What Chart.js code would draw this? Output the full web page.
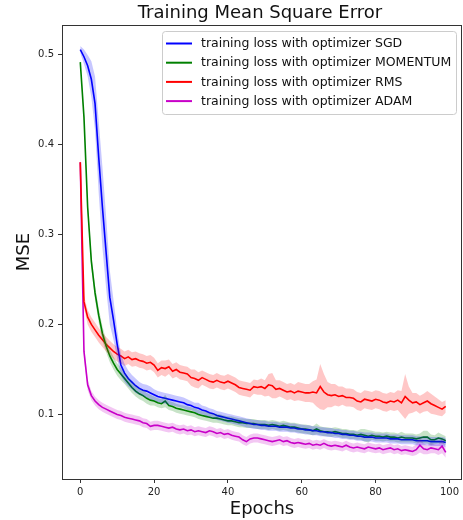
<!DOCTYPE html>
<html><head><meta charset="utf-8">
<script src="https://cdn.jsdelivr.net/npm/chart.js@4/dist/chart.umd.min.js"></script>
<style>html,body{margin:0;padding:0;background:#fff;overflow:hidden}</style>
</head><body>
<canvas id="c" width="463" height="520"></canvas>
<script>
const chartTitle = "Training Mean Square Error";
const xTitle = "Epochs";
const yTitle = "MSE";
const xTicks = [0, 20, 40, 60, 80, 100];
const yTicks = [0.1, 0.2, 0.3, 0.4, 0.5];
const seriesLabels = [
  "training loss with optimizer SGD",
  "training loss with optimizer MOMENTUM",
  "training loss with optimizer RMS",
  "training loss with optimizer ADAM"
];
const seriesColors = ["#0000ff", "#008000", "#ff0000", "#c800c8"];
const bandColors = ["rgba(0,0,255,0.22)", "rgba(0,128,0,0.22)", "rgba(255,0,0,0.22)", "rgba(200,0,200,0.22)"];

const sgdMean = [
  0.505,0.497,0.487,0.472,0.445,0.385,0.330,0.280,0.230,0.205,
  0.178,0.155,0.146,0.140,0.136,0.132,0.129,0.127,0.126,0.124,
  0.122,0.120,0.119,0.118,0.117,0.116,0.115,0.114,0.113,0.111,
  0.110,0.108,0.107,0.105,0.104,0.102,0.101,0.099,0.098,0.097,
  0.096,0.095,0.094,0.093,0.092,0.091,0.090,0.089,0.089,0.088,
  0.088,0.087,0.087,0.087,0.086,0.086,0.086,0.085,0.085,0.084,
  0.084,0.083,0.083,0.082,0.082,0.081,0.081,0.080,0.080,0.079,
  0.079,0.078,0.078,0.077,0.077,0.076,0.076,0.075,0.075,0.075,
  0.074,0.074,0.074,0.074,0.073,0.073,0.073,0.072,0.072,0.072,
  0.072,0.071,0.071,0.071,0.071,0.070,0.070,0.070,0.070,0.069
];
const sgdStd = [
  0.004,0.008,0.012,0.020,0.030,0.040,0.045,0.040,0.030,0.022,
  0.016,0.012,0.010,0.009,0.008,0.008,0.007,0.007,0.007,0.007,
  0.006,0.006,0.006,0.006,0.006,0.006,0.006,0.006,0.006,0.006,
  0.005,0.005,0.006,0.005,0.005,0.005,0.005,0.005,0.005,0.005,
  0.005,0.005,0.005,0.005,0.005,0.005,0.005,0.005,0.005,0.005,
  0.005,0.005,0.005,0.005,0.005,0.005,0.005,0.005,0.005,0.005,
  0.005,0.005,0.005,0.005,0.005,0.005,0.005,0.005,0.005,0.005,
  0.005,0.005,0.005,0.005,0.005,0.005,0.005,0.005,0.005,0.005,
  0.005,0.005,0.005,0.005,0.005,0.005,0.005,0.005,0.005,0.005,
  0.005,0.005,0.005,0.005,0.005,0.005,0.005,0.005,0.005,0.005
];
const momentumMean = [
  0.491,0.430,0.330,0.270,0.235,0.210,0.190,0.176,0.165,0.157,
  0.150,0.145,0.140,0.135,0.130,0.126,0.123,0.121,0.118,0.116,
  0.115,0.113,0.112,0.115,0.110,0.109,0.107,0.106,0.105,0.104,
  0.103,0.102,0.100,0.099,0.098,0.097,0.096,0.096,0.095,0.094,
  0.093,0.093,0.092,0.091,0.091,0.090,0.090,0.090,0.089,0.089,
  0.089,0.088,0.089,0.088,0.087,0.088,0.087,0.086,0.086,0.085,
  0.084,0.084,0.083,0.082,0.084,0.082,0.081,0.081,0.080,0.081,
  0.080,0.079,0.079,0.078,0.078,0.077,0.078,0.077,0.076,0.077,
  0.076,0.076,0.075,0.076,0.075,0.075,0.074,0.075,0.074,0.074,
  0.074,0.073,0.074,0.075,0.075,0.072,0.072,0.074,0.073,0.071
];
const momentumStd = [
  0.003,0.005,0.007,0.008,0.008,0.008,0.008,0.007,0.007,0.007,
  0.007,0.007,0.006,0.006,0.006,0.006,0.006,0.006,0.006,0.006,
  0.005,0.005,0.005,0.007,0.005,0.005,0.005,0.005,0.005,0.005,
  0.005,0.005,0.005,0.005,0.005,0.005,0.005,0.005,0.005,0.005,
  0.005,0.005,0.005,0.005,0.005,0.005,0.005,0.005,0.005,0.005,
  0.005,0.005,0.005,0.005,0.005,0.005,0.005,0.005,0.005,0.005,
  0.005,0.005,0.005,0.005,0.006,0.005,0.005,0.005,0.005,0.005,
  0.005,0.005,0.005,0.005,0.005,0.005,0.006,0.007,0.007,0.005,
  0.005,0.005,0.005,0.005,0.005,0.005,0.005,0.006,0.005,0.005,
  0.005,0.005,0.005,0.007,0.007,0.006,0.005,0.006,0.005,0.005
];
const rmsMean = [
  0.380,0.225,0.208,0.200,0.194,0.188,0.183,0.178,0.174,0.170,
  0.167,0.165,0.162,0.164,0.161,0.162,0.160,0.159,0.157,0.158,
  0.155,0.149,0.152,0.151,0.153,0.148,0.150,0.147,0.146,0.145,
  0.141,0.140,0.138,0.141,0.139,0.137,0.136,0.138,0.136,0.135,
  0.137,0.135,0.133,0.130,0.129,0.128,0.127,0.131,0.130,0.131,
  0.129,0.133,0.132,0.128,0.129,0.127,0.125,0.126,0.124,0.126,
  0.125,0.124,0.124,0.125,0.124,0.131,0.125,0.122,0.121,0.122,
  0.120,0.121,0.119,0.119,0.118,0.115,0.114,0.117,0.116,0.115,
  0.117,0.116,0.114,0.113,0.115,0.114,0.116,0.113,0.120,0.116,
  0.113,0.114,0.111,0.113,0.115,0.112,0.110,0.108,0.106,0.109
];
const rmsStd = [
  0.006,0.007,0.008,0.008,0.008,0.008,0.008,0.008,0.008,0.008,
  0.008,0.008,0.008,0.008,0.008,0.008,0.008,0.008,0.008,0.008,
  0.008,0.008,0.008,0.009,0.008,0.008,0.008,0.008,0.008,0.008,
  0.009,0.010,0.009,0.008,0.008,0.008,0.008,0.008,0.008,0.008,
  0.008,0.008,0.008,0.008,0.008,0.008,0.008,0.008,0.008,0.009,
  0.009,0.012,0.014,0.010,0.009,0.009,0.009,0.009,0.009,0.010,
  0.010,0.010,0.010,0.012,0.015,0.025,0.020,0.014,0.013,0.012,
  0.011,0.010,0.010,0.010,0.010,0.010,0.010,0.010,0.010,0.010,
  0.010,0.010,0.010,0.010,0.010,0.010,0.011,0.013,0.025,0.015,
  0.011,0.010,0.010,0.010,0.011,0.011,0.010,0.009,0.008,0.007
];
const adamMean = [
  0.380,0.170,0.133,0.121,0.115,0.111,0.108,0.106,0.104,0.102,
  0.100,0.099,0.097,0.096,0.095,0.094,0.093,0.091,0.090,0.087,
  0.088,0.088,0.087,0.086,0.085,0.086,0.084,0.083,0.084,0.082,
  0.083,0.081,0.082,0.081,0.080,0.082,0.081,0.079,0.080,0.078,
  0.079,0.077,0.076,0.075,0.072,0.070,0.073,0.074,0.074,0.073,
  0.072,0.071,0.070,0.071,0.072,0.070,0.071,0.069,0.068,0.069,
  0.068,0.067,0.068,0.066,0.067,0.066,0.068,0.066,0.065,0.066,
  0.065,0.064,0.066,0.064,0.063,0.064,0.063,0.062,0.064,0.063,
  0.062,0.063,0.061,0.062,0.063,0.061,0.062,0.060,0.061,0.060,
  0.059,0.061,0.066,0.062,0.061,0.063,0.062,0.061,0.065,0.058
];
const adamStd = [
  0.015,0.008,0.006,0.005,0.005,0.005,0.005,0.005,0.005,0.005,
  0.005,0.005,0.005,0.005,0.005,0.005,0.005,0.005,0.005,0.005,
  0.005,0.005,0.005,0.005,0.005,0.005,0.005,0.005,0.005,0.005,
  0.005,0.005,0.005,0.005,0.005,0.005,0.005,0.005,0.005,0.005,
  0.005,0.005,0.005,0.005,0.005,0.005,0.005,0.005,0.005,0.005,
  0.005,0.005,0.005,0.005,0.005,0.005,0.005,0.005,0.005,0.005,
  0.005,0.005,0.005,0.005,0.005,0.005,0.005,0.005,0.005,0.005,
  0.005,0.005,0.005,0.005,0.005,0.005,0.005,0.005,0.005,0.005,
  0.005,0.005,0.005,0.005,0.005,0.005,0.005,0.005,0.005,0.005,
  0.005,0.006,0.008,0.006,0.005,0.006,0.005,0.006,0.008,0.006
];

const means = [sgdMean, momentumMean, rmsMean, adamMean];
const stds = [sgdStd, momentumStd, rmsStd, adamStd];
const epochs = sgdMean.map((_, i) => i);

const FONT = "'DejaVu Sans', sans-serif";
const datasets = [];
// bands first
means.forEach((m, s) => {
  datasets.push({
    label: seriesLabels[s] + " lower",
    data: epochs.map((e, i) => ({x: e, y: m[i] - stds[s][i]})),
    borderWidth: 0, pointRadius: 0, fill: false, borderColor: "rgba(0,0,0,0)"
  });
  datasets.push({
    label: seriesLabels[s] + " upper",
    data: epochs.map((e, i) => ({x: e, y: m[i] + stds[s][i]})),
    borderWidth: 0, pointRadius: 0, fill: "-1", backgroundColor: bandColors[s], borderColor: "rgba(0,0,0,0)"
  });
});
means.forEach((m, s) => {
  datasets.push({
    label: seriesLabels[s],
    data: epochs.map((e, i) => ({x: e, y: m[i]})),
    borderColor: seriesColors[s], borderWidth: 1.6, pointRadius: 0, fill: false, tension: 0
  });
});

const decor = {
  id: "decor",
  afterDraw(chart) {
    const ctx = chart.ctx, a = chart.chartArea;
    ctx.save();
    // frame
    ctx.strokeStyle = "#333"; ctx.lineWidth = 1;
    ctx.strokeRect(Math.round(a.left) + 0.5, Math.round(a.top) + 0.5, Math.round(a.right - a.left) - 1, Math.round(a.bottom - a.top));
    // title
    ctx.fillStyle = "#111";
    ctx.font = "18px " + FONT;
    ctx.textAlign = "center"; ctx.textBaseline = "middle";
    ctx.fillText(chartTitle, 260, 13);
    // legend
    const lx = 162.5, ly = 31.5, lw = 294, lh = 83;
    ctx.beginPath();
    if (ctx.roundRect) ctx.roundRect(lx, ly, lw, lh, 3); else ctx.rect(lx, ly, lw, lh);
    ctx.fillStyle = "rgba(255,255,255,0.85)"; ctx.fill();
    ctx.strokeStyle = "#cccccc"; ctx.lineWidth = 1; ctx.stroke();
    ctx.font = "12.5px " + FONT; ctx.textAlign = "left"; ctx.textBaseline = "middle";
    seriesLabels.forEach((lab, i) => {
      const y = 43.5 + i * 19.2;
      ctx.strokeStyle = seriesColors[i]; ctx.lineWidth = 2;
      ctx.beginPath(); ctx.moveTo(166, y); ctx.lineTo(192, y); ctx.stroke();
      ctx.fillStyle = "#111";
      ctx.fillText(lab, 201, y + 0.5);
    });
    ctx.restore();
  }
};

new Chart(document.getElementById("c"), {
  type: "line",
  data: { datasets },
  options: {
    responsive: false, animation: false, devicePixelRatio: 1,
    layout: { padding: { left: 0, top: 25, right: 1, bottom: 0 } },
    plugins: { legend: { display: false }, tooltip: { enabled: false }, title: { display: false } },
    scales: {
      x: {
        type: "linear", min: -4.95, max: 103.4,
        afterBuildTicks: s => { s.ticks = xTicks.map(v => ({ value: v })); },
        afterFit: s => { s.height = 41; },
        grid: { drawOnChartArea: false, drawTicks: true, tickLength: 4, tickColor: "#333" },
        border: { display: false },
        ticks: { font: { family: FONT, size: 10 }, color: "#222", padding: 3, maxRotation: 0, autoSkip: false, callback: v => String(v) },
        title: { display: true, text: xTitle, font: { family: FONT, size: 18 }, color: "#111", padding: { top: 2, bottom: 0 } }
      },
      y: {
        type: "linear", min: 0.0285, max: 0.5322,
        afterBuildTicks: s => { s.ticks = yTicks.map(v => ({ value: v })); },
        afterFit: s => { s.width = 62; },
        grid: { drawOnChartArea: false, drawTicks: true, tickLength: 4, tickColor: "#333" },
        border: { display: false },
        ticks: { font: { family: FONT, size: 10 }, color: "#222", padding: 4, autoSkip: false, callback: v => v.toFixed(1) },
        title: { display: true, text: yTitle, font: { family: FONT, size: 18 }, color: "#111", padding: { top: 14, bottom: 0 } }
      }
    }
  },
  plugins: [decor]
});
</script>
</body></html>
